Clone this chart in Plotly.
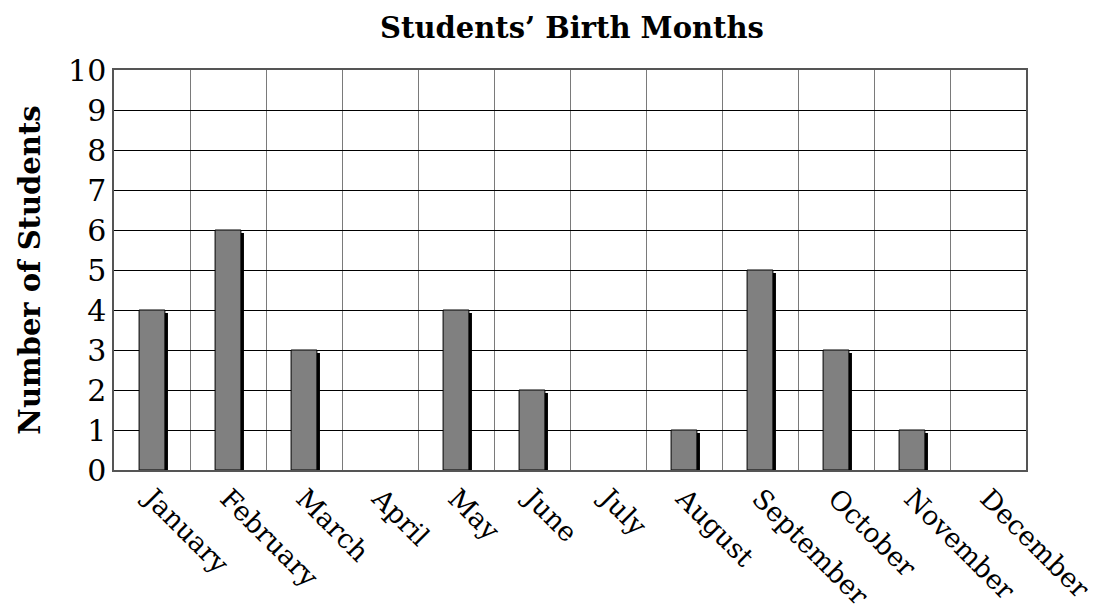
import plotly.graph_objects as go

months = ["January", "February", "March", "April", "May", "June", "July",
          "August", "September", "October", "November", "December"]
students = [4, 6, 3, 0, 4, 2, 0, 1, 5, 3, 1, 0]
y_ticks = list(range(0, 11))

FONT = "DejaVu Serif"
bar_w = 0.34
shadow_dx = 0.04
shadow_dy = 0.075
shadow_vals = [v - shadow_dy if v > 0 else 0 for v in students]
line_widths = [1 if v > 0 else 0 for v in students]

# page has an 8px body margin; size the figure to fit the 1096x613 window
W, H = 1088, 605

fig = go.Figure()
fig.add_trace(go.Bar(
    x=months, y=shadow_vals, width=bar_w, offset=-bar_w / 2 + shadow_dx,
    marker=dict(color="black", line=dict(width=0)), hoverinfo="skip", showlegend=False,
))
fig.add_trace(go.Bar(
    x=months, y=students, width=bar_w, offset=-bar_w / 2,
    marker=dict(color="#808080", line=dict(color="black", width=line_widths)),
    showlegend=False,
))

fig.update_layout(
    barmode="overlay",
    width=W, height=H,
    margin=dict(l=106, r=70, t=62, b=143, autoexpand=False),
    paper_bgcolor="white", plot_bgcolor="white",
    title=dict(text="<b>Students’ Birth Months</b>", x=564 / W, xanchor="center",
               y=1 - 20 / H, yanchor="middle",
               font=dict(family=FONT, size=29, color="black")),
    font=dict(family=FONT, color="black"),
)
fig.update_xaxes(
    type="category", tickson="boundaries", tickangle=45, automargin=False,
    showgrid=True, gridcolor="#7a7a7a", gridwidth=1,
    showline=True, linecolor="#555555", linewidth=1.5, mirror=True,
    ticks="", tickfont=dict(family=FONT, size=27, color="black"),
)
fig.update_yaxes(
    range=[0, 10], tickvals=y_ticks, ticktext=[str(t) for t in y_ticks],
    automargin=False,
    showgrid=True, gridcolor="black", gridwidth=1,
    showline=True, linecolor="#555555", linewidth=1.5, mirror=True,
    zeroline=False, ticks="", ticklen=0,
    tickfont=dict(family=FONT, size=30, color="black"),
    title=dict(text="<b>Number of Students</b>", standoff=19,
               font=dict(family=FONT, size=29, color="black")),
)

fig.write_html("out.html")
